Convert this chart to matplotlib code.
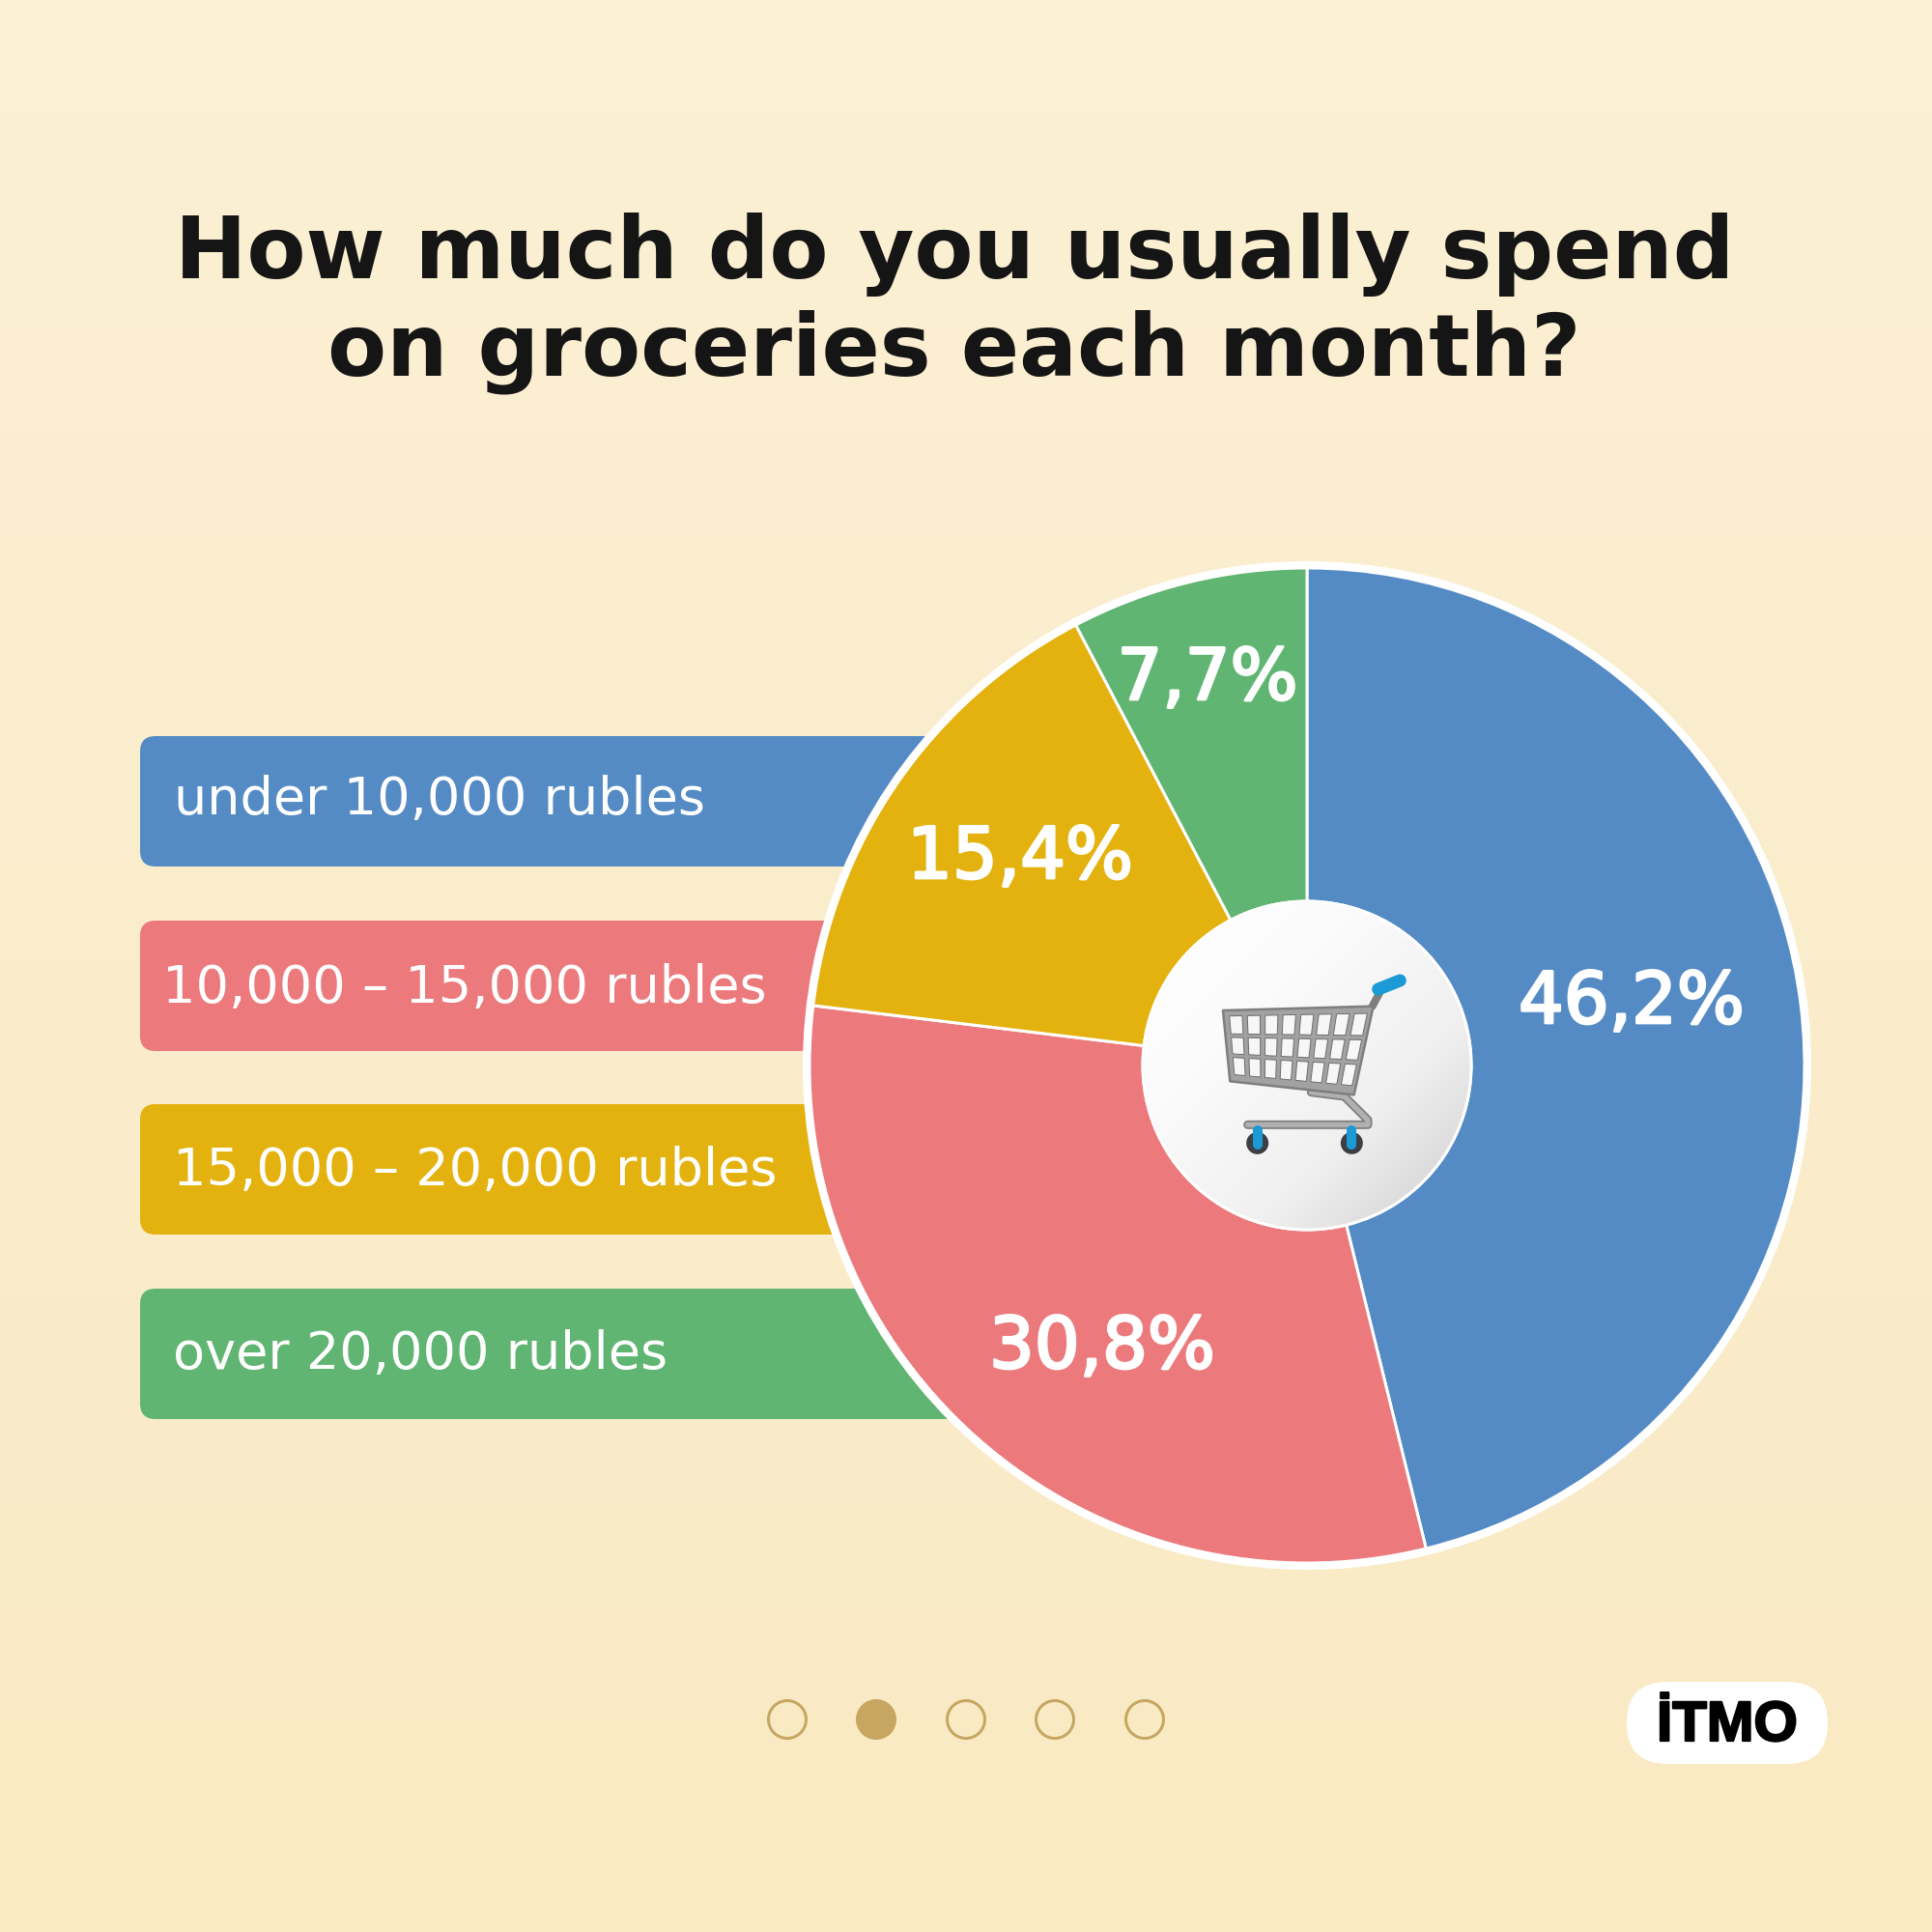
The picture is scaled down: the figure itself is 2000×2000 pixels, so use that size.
import numpy as np
import matplotlib
matplotlib.use("Agg")
import matplotlib.pyplot as plt
import matplotlib.patheffects as pe
from matplotlib.colors import LinearSegmentedColormap
from matplotlib.patches import Circle, FancyBboxPatch, Polygon

# data
title_lines = ["How much do you usually spend", "on groceries each month?"]
categories = ["under 10,000 rubles", "10,000 – 15,000 rubles", "15,000 – 20,000 rubles", "over 20,000 rubles"]
shares = [46.2, 30.8, 15.4, 7.7]
share_labels = ["46,2%", "30,8%", "15,4%", "7,7%"]
colors = ["#548BC4", "#EC797C", "#E4B20F", "#5FB571"]

# layout, in pixels from the top left corner
label_x = [180, 168, 179, 179]
label_base = [843, 1038, 1227, 1417]
bar_top = [762, 953, 1143, 1334]
bar_h = 135
share_pos = [(1689, 1059), (1141, 1416), (1056, 909), (1250, 724)]
title_base = [288, 389]
cx, cy = 1353, 1103
r_out = 515
r_in = 170
dot_x = [815, 907, 1000, 1092, 1185]
active_dot = 1
ink = "#151515"
gold = "#C6A660"
steel = "#A2A2A2"
steel_dark = "#7E7E7E"
cart_blue = "#1B9AD6"


def Y(y):
    return 2000 - y


fig = plt.figure(figsize=(10, 10), dpi=200)
PT = 72 / 200  # points per pixel

# background layer
bg = fig.add_axes([0, 0, 1, 1], zorder=0)
bg_cmap = LinearSegmentedColormap.from_list("bg", ["#F9EAC3", "#FCF0D5"])
bg.imshow(np.linspace(1, 0, 256).reshape(-1, 1), cmap=bg_cmap, extent=(0, 2000, 0, 2000), aspect="auto")
bg.set_xlim(0, 2000)
bg.set_ylim(0, 2000)
bg.axis("off")

for top, col in zip(bar_top, colors):
    bg.add_patch(FancyBboxPatch((145 + 16, Y(top + bar_h) + 16), 1000, bar_h - 32,
                                boxstyle="round,pad=16,rounding_size=16", fc=col, ec="none"))
bg.add_patch(Circle((cx, Y(cy)), r_out + 7, fc="white", ec="none"))

# pie layer
half = 530
pie_ax = fig.add_axes([(cx - half) / 2000, (Y(cy) - half) / 2000, 2 * half / 2000, 2 * half / 2000], zorder=1)
pie_ax.pie(shares, colors=colors, startangle=90, counterclock=False,
           wedgeprops={"width": 1 - r_in / r_out, "edgecolor": "white", "linewidth": 3 * PT})
pie_ax.set_xlim(-half / r_out, half / r_out)
pie_ax.set_ylim(-half / r_out, half / r_out)
pie_ax.patch.set_alpha(0)

# top layer: hub, cart, text
ax = fig.add_axes([0, 0, 1, 1], zorder=2)
ax.patch.set_alpha(0)
ax.axis("off")

hub_cmap = LinearSegmentedColormap.from_list("hub", ["#FFFFFF", "#FBFBFB", "#F0F0F0", "#CDCDCD"])
gx, gy = np.meshgrid(np.linspace(0, 1, 200), np.linspace(0, 1, 200))
hub_img = ax.imshow((gx + gy) / 2, cmap=hub_cmap, aspect="auto",
                    extent=(cx - r_in, cx + r_in, Y(cy + r_in), Y(cy - r_in)), zorder=1)
hub_clip = Circle((cx, Y(cy)), r_in, transform=ax.transData)
hub_img.set_clip_path(hub_clip)
ax.add_patch(Circle((cx, Y(cy)), r_in, fc="none", ec="white", lw=3 * PT, zorder=2))


def cart_xy(zx, zy):
    return 1170 + zx / 3, Y(920 + zy / 3)


def cart_line(points, color, width, z=3):
    xy = [cart_xy(*p) for p in points]
    ax.plot([p[0] for p in xy], [p[1] for p in xy], color=color, lw=width * PT,
            solid_capstyle="round", solid_joinstyle="round", zorder=z)


# wheels and stems
for wx in (395, 688):
    wxp, wyp = cart_xy(wx, 790)
    ax.add_patch(Circle((wxp, wyp), 11.5, fc="#3C4046", ec="none", zorder=3))
    cart_line([(wx, 750), (wx, 795)], cart_blue, 10, z=4)

# frame
frame = [(365, 733), (738, 733), (738, 718), (665, 645), (562, 632)]
cart_line(frame, steel_dark, 9)
cart_line(frame, "#B0B0B0", 5.5)
cart_line([(752, 365), (775, 322)], steel_dark, 8)
cart_line([(770, 312), (838, 285)], cart_blue, 13, z=4)

# basket
tl, tr, br, bl = (np.array(p, float) for p in [(288, 378), (755, 365), (695, 640), (310, 598)])
ax.add_patch(Polygon([cart_xy(*p) for p in (tl, tr, br, bl)], closed=True, fc=steel, ec=steel_dark,
                     lw=2.5 * PT, joinstyle="round", zorder=3))


def basket(u, v):
    top_pt = tl + (tr - tl) * u
    bot_pt = bl + (br - bl) * u
    return top_pt + (bot_pt - top_pt) * v


rows = [(0.08, 0.33), (0.38, 0.61), (0.66, 0.90)]
for r0, r1 in rows:
    for i in range(8):
        u0 = 0.04 + i * 0.1205
        u1 = u0 + 0.086
        cell = [basket(u0, r0), basket(u1, r0), basket(u1, r1), basket(u0, r1)]
        ax.add_patch(Polygon([cart_xy(*c) for c in cell], closed=True, fc="#F7F7F7", ec="#6F6F6F",
                             lw=1 * PT, zorder=4))

# title
for line, y in zip(title_lines, title_base):
    ax.text(988, Y(y), line, ha="center", va="baseline", fontsize=32, fontweight="bold",
            family="DejaVu Sans", color=ink, zorder=5)

# legend labels
for name, x, y in zip(categories, label_x, label_base):
    ax.text(x, Y(y), name, ha="left", va="baseline", fontsize=19.5, family="DejaVu Sans",
            color="white", zorder=5)

# share labels
for lab, (x, y) in zip(share_labels, share_pos):
    ax.text(x, Y(y), lab, ha="center", va="baseline", fontsize=26.5, family="DejaVu Sans", color="white",
            zorder=5, path_effects=[pe.withStroke(linewidth=1.0, foreground="white")])

# pager dots
for i, x in enumerate(dot_x):
    ax.add_patch(Circle((x, Y(1780)), 19.5, fc=gold if i == active_dot else "none", ec=gold,
                        lw=3 * PT, zorder=5))

# logo
ax.add_patch(FancyBboxPatch((1684 + 42, Y(1826) + 42), 208 - 84, 85 - 84,
                            boxstyle="round,pad=42,rounding_size=42", fc="white", ec="none", zorder=5))
ax.text(1788, Y(1802), "İTMO", ha="center", va="baseline", fontsize=21, fontweight="bold",
        family="Liberation Sans", color="black", zorder=6,
        path_effects=[pe.withStroke(linewidth=0.8, foreground="black")])

ax.set_xlim(0, 2000)
ax.set_ylim(0, 2000)

fig.savefig("out.png", dpi=200)
